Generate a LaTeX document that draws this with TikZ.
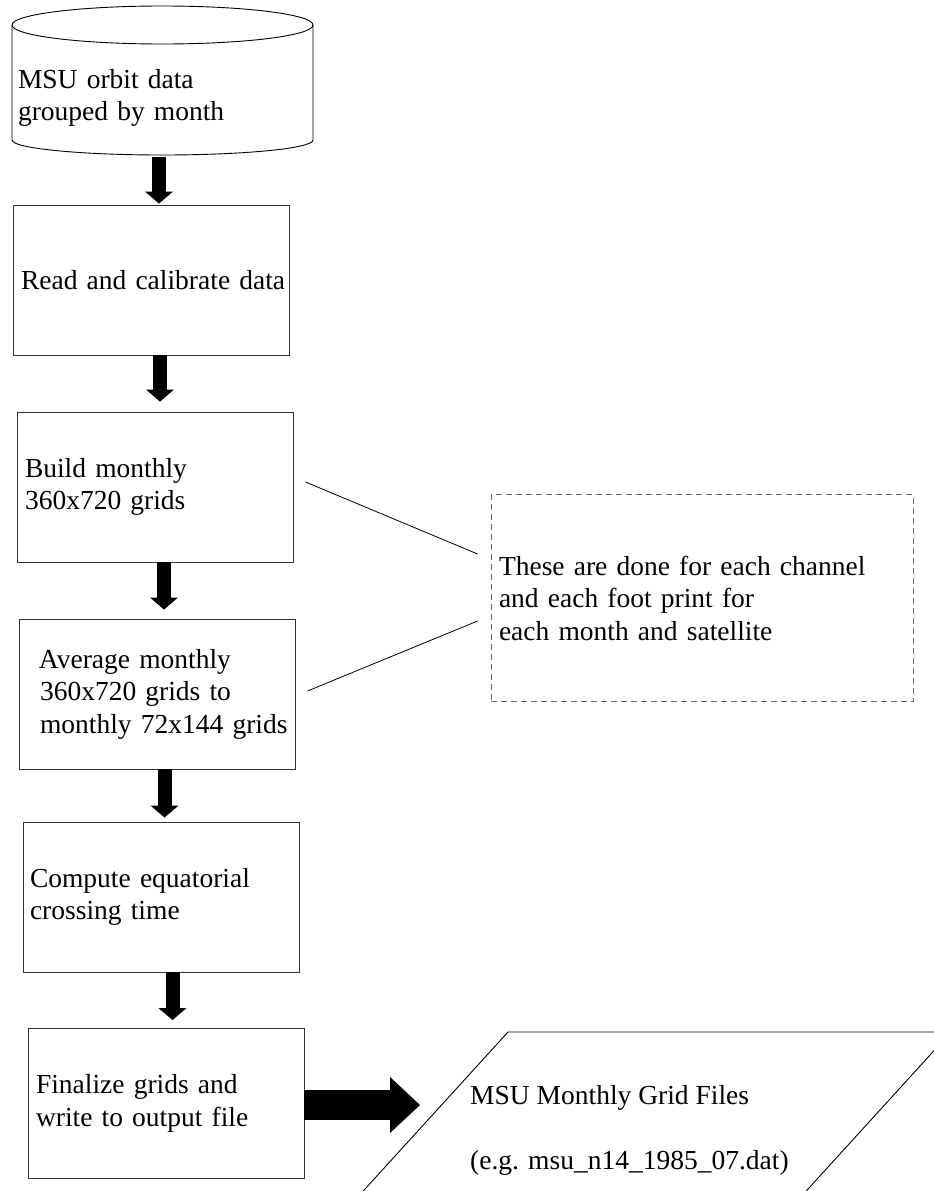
\documentclass[tikz,border=0pt]{standalone}
\usepackage{fontspec}
\setmainfont{Liberation Serif}
\usetikzlibrary{arrows.meta,positioning}
\tikzset{
	procbox/.style={draw=black!80, line width=0.9pt, minimum width=276pt, minimum height=150pt, text width=276pt, inner xsep=0pt, inner ysep=0pt, align=left},
	notebox/.style={draw=black!60, line width=0.8pt, dash pattern=on 6pt off 4pt, minimum width=422pt, minimum height=207pt, text width=406pt, inner xsep=8pt, inner ysep=0pt, align=left},
	flow/.style={line width=14pt, -{Triangle[length=12pt,width=28pt,line width=0pt]}},
	bigflow/.style={line width=30pt, -{Triangle[length=30pt,width=56pt,line width=0pt]}},
	link/.style={line width=0.8pt}
}
\newcommand{\ind}[1]{\hspace*{#1pt}}
\begin{document}
\begin{tikzpicture}[x=1pt, y=-1pt, font=\fontsize{27.5}{32.5}\selectfont, line join=miter]
				\useasboundingbox (0,0) rectangle (934,1191);
				\clip (0,0) rectangle (934,1191);
				\draw[line width=0.9pt] (162.5,25) ellipse [x radius=150.5, y radius=19];
				\draw[line width=0.9pt] (12,25) -- (12,140) arc[start angle=180, end angle=0, x radius=150.5, y radius=15] -- (313,25);
				\node[minimum width=301pt, minimum height=118pt, text width=289pt, inner xsep=6pt, inner ysep=0pt, align=left] (orbit) at (162.5,98) {MSU orbit data\\grouped by month};
				\node[procbox] (read) at (151,280) {\ind{8}\mbox{Read and calibrate data}};
				\node[procbox] (build) at (155,487) {\ind{8}Build monthly\\\ind{8}360x720 grids};
				\node[procbox] (avg) at (157,694) {\ind{20}Average monthly\\\ind{21}360x720 grids to\\\ind{21}\mbox{monthly 72x144 grids}};
				\node[procbox] (comp) at (161,897) {\ind{7}Compute equatorial\\\ind{7}crossing time};
				\node[procbox] (final) at (166,1103.5) {\ind{8}Finalize grids and\\\ind{8}write to output file};
				\node[notebox] (note) at (702,598) {These are done for each channel\\and each foot print for\\each month and satellite};
				\node[anchor=west, inner sep=0pt, align=left] (files) at (470,1130) {MSU Monthly Grid Files\\\mbox{}\\(e.g. msu\_n14\_1985\_07.dat)};
				\draw[line width=0.9pt] (355,1200) -- (508,1032) -- (951,1032) -- (798,1200);
				\foreach \a/\b/\dx/\gap in {orbit/read/-3.5/1, read/build/9/10, build/avg/9/9, avg/comp/7.5/4, comp/final/11.5/8}
					\draw[flow, shorten >=\gap pt] ([xshift=\dx pt]\a.south) -- ([xshift=\dx pt]\a.south |- \b.north);
				\draw[bigflow, shorten >=50pt] ([yshift=-1.5pt]final.east) -- ([yshift=-1.5pt]final.east -| files.west);
				\draw[link] ([xshift=12pt,yshift=5pt]build.east) -- ([xshift=-13pt,yshift=44pt]note.west);
				\draw[link] ([xshift=12pt,yshift=3pt]avg.east) -- ([xshift=-13pt,yshift=-23pt]note.west);
\end{tikzpicture}
\end{document}
